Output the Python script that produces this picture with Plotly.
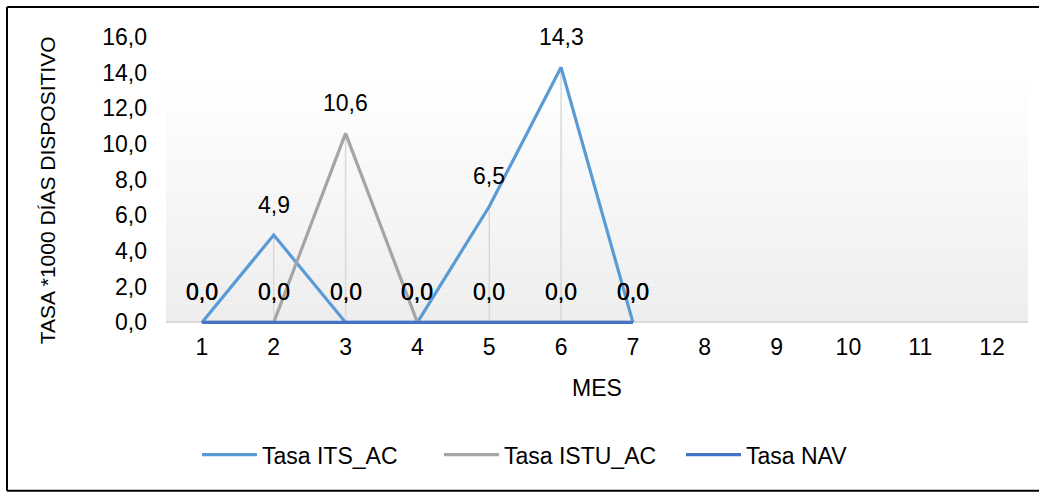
import plotly.graph_objects as go

months = ["1", "2", "3", "4", "5", "6", "7", "8", "9", "10", "11", "12"]
data_months = ["1", "2", "3", "4", "5", "6", "7"]
tasa_its_ac = [0.0, 4.9, 0.0, 0.0, 6.5, 14.3, 0.0]
tasa_istu_ac = [0.0, 0.0, 10.6, 0.0, 0.0, 0.0, 0.0]
tasa_nav = [0.0, 0.0, 0.0, 0.0, 0.0, 0.0, 0.0]
series_names = ["Tasa ITS_AC", "Tasa ISTU_AC", "Tasa NAV"]
y_ticks = [0, 2, 4, 6, 8, 10, 12, 14, 16]

series = [tasa_its_ac, tasa_istu_ac, tasa_nav]
colors = ["#5B9BD5", "#A5A5A5", "#4472C4"]
FONT = "Liberation Sans, Arial, sans-serif"

# pixel layout: value 0 at y=322, 16 at y=37; plot x 166..1028
Y_MIN, Y_MAX = -0.2, 16
L, R, T = 166, 1028, 37
K = (322 - T) / 16.0
PB = 322 - Y_MIN * K
def px(x):
    return (x - L) / (R - L)
def py(y):
    return (PB - y) / (PB - T)

fig = go.Figure()

# drop lines from highest point to axis
dx, dy = [], []
for i, m in enumerate(data_months):
    top = max(s[i] for s in series)
    dx += [m, m, None]
    dy += [0, top, None]
fig.add_trace(go.Scatter(x=dx, y=dy, mode="lines",
                         line=dict(color="#D9D9D9", width=1.5),
                         showlegend=False, hoverinfo="skip"))

for name, vals, c in zip(series_names, series, colors):
    fig.add_trace(go.Scatter(x=data_months, y=vals, mode="lines", name=name,
                             line=dict(color=c, width=3.2)))

annotations = []
for vals in series:
    for m, v in zip(data_months, vals):
        annotations.append(dict(x=months.index(m), y=v, xref="x", yref="y",
                                text=f"{v:.1f}".replace(".", ","),
                                showarrow=False, yshift=30,
                                xanchor="center", yanchor="middle",
                                font=dict(family=FONT, size=23, color="#000000")))

annotations.append(dict(x=px(47), y=py(190), xref="paper", yref="paper",
                        text="TASA *1000 DÍAS DISPOSITIVO", textangle=-90,
                        showarrow=False, xanchor="center", yanchor="middle",
                        font=dict(family=FONT, size=21, color="#000000")))
annotations.append(dict(x=px(597), y=py(387), xref="paper", yref="paper",
                        text="MES", showarrow=False,
                        xanchor="center", yanchor="middle",
                        font=dict(family=FONT, size=23, color="#000000")))

shapes = []
# gradient background bands
g_top = 13.9
n = 40
for k in range(n):
    y0 = g_top * k / n
    y1 = g_top * (k + 1) / n
    frac = (k + 0.5) / n
    v = int(round(237 + (255 - 237) * frac))
    shapes.append(dict(type="rect", xref="paper", yref="y", x0=0, x1=1,
                       y0=y0, y1=y1, fillcolor=f"rgb({v},{v},{v})",
                       line=dict(width=0), layer="below"))
# chart border (left, top, bottom)
for x0, y0, x1, y1 in [(7, 7, 1039, 7), (7, 7, 7, 490), (7, 490, 1039, 490)]:
    shapes.append(dict(type="line", xref="paper", yref="paper",
                       x0=px(x0), y0=py(y0), x1=px(x1), y1=py(y1),
                       line=dict(color="#000000", width=2)))

fig.update_layout(
    width=1044, height=493,
    margin=dict(l=L, r=1044 - R, t=T, b=493 - PB),
    paper_bgcolor="white", plot_bgcolor="white",
    separators=",.",
    font=dict(family=FONT, size=23, color="#000000"),
    xaxis=dict(type="category", categoryorder="array", categoryarray=months,
               tickmode="array", tickvals=months, ticktext=months,
               range=[-0.5, 11.5], showgrid=False, zeroline=False,
               showline=False, ticks="", ticklabelstandoff=5,
               tickfont=dict(family=FONT, size=23, color="#000000")),
    yaxis=dict(range=[Y_MIN, Y_MAX], tickvals=y_ticks, tickformat=".1f",
               showgrid=False, zeroline=True, zerolinecolor="#D9D9D9",
               zerolinewidth=1.5, showline=False, ticks="",
               ticklabelstandoff=18,
               tickfont=dict(family=FONT, size=23, color="#000000")),
    legend=dict(orientation="h", x=px(560), xanchor="center",
                y=py(454), yanchor="middle",
                font=dict(family=FONT, size=23, color="#000000"),
                itemwidth=55, entrywidth=172, bgcolor="rgba(0,0,0,0)"),
    annotations=annotations,
    shapes=shapes,
)

fig.write_html("out.html", config={"displayModeBar": False},
               post_script="document.body.style.margin='0px';"
                           "document.body.style.overflow='hidden';")
